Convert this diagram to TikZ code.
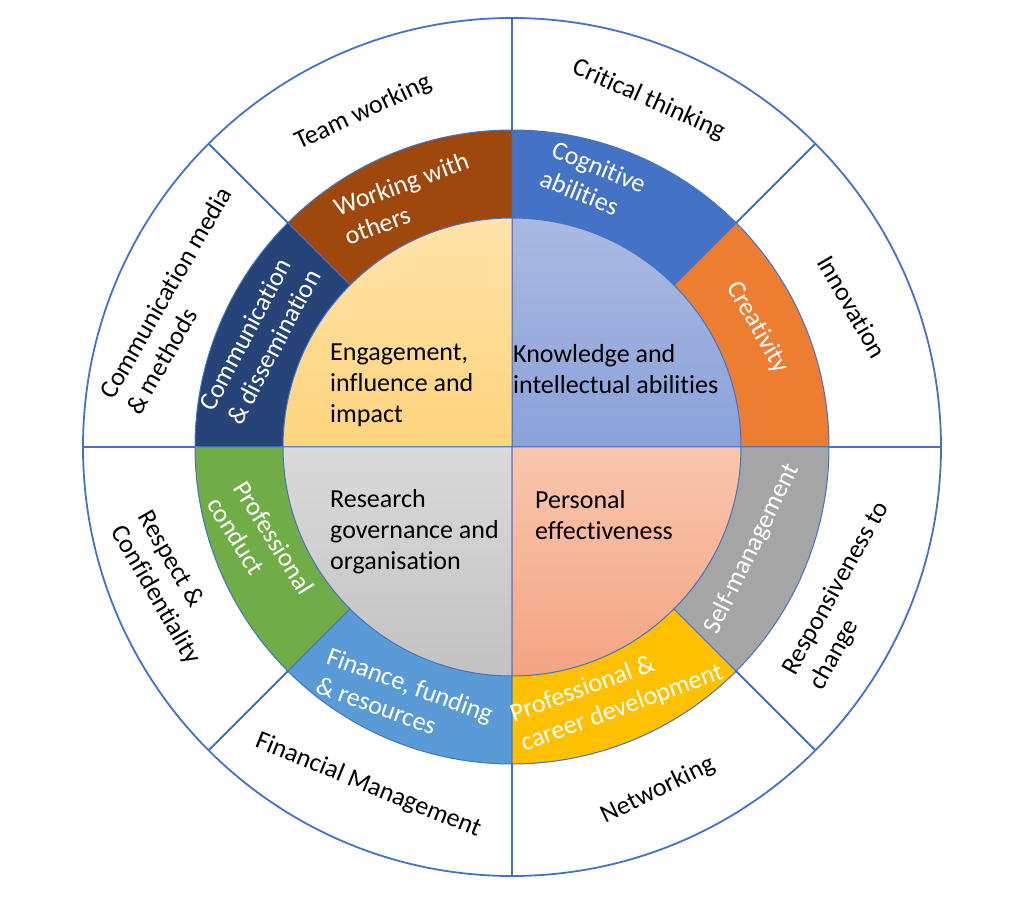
\documentclass[tikz,border=0pt]{standalone}
\usepackage{fontspec}
\setmainfont{Carlito}[Ligatures=NoCommon]
\definecolor{rim}{HTML}{4472C4}
\definecolor{workbrown}{HTML}{9E480E}
\definecolor{commnavy}{HTML}{264478}
\definecolor{cogblue}{HTML}{4472C4}
\definecolor{creaorange}{HTML}{ED7D31}
\definecolor{selfgrey}{HTML}{A5A5A5}
\definecolor{careergold}{HTML}{FFC000}
\definecolor{finblue}{HTML}{5B9BD5}
\definecolor{condgreen}{HTML}{70AD47}
\definecolor{engtop}{HTML}{FFE3A9}
\definecolor{engbot}{HTML}{FFD47D}
\definecolor{knowtop}{HTML}{AAB9E0}
\definecolor{knowbot}{HTML}{8AA2DA}
\definecolor{restop}{HTML}{DADADA}
\definecolor{resbot}{HTML}{C2C2C2}
\definecolor{pertop}{HTML}{F8C6AE}
\definecolor{perbot}{HTML}{F4A482}
\tikzset{
    outerlabel/.style={font=\fontsize{26}{31}\selectfont, align=left, text=black, inner sep=0pt},
    ringlabel/.style={font=\fontsize{26}{31}\selectfont, align=left, text=white, inner sep=0pt},
    corelabel/.style={font=\fontsize{26}{31}\selectfont, align=left, anchor=west, inner sep=0pt},
}
\begin{document}
\begin{tikzpicture}[x=1pt,y=1pt]
\useasboundingbox[fill=white] (-512,-449) rectangle (512,447);
% outer ring
\draw[rim, line width=1.8pt, fill=white] (0,0) circle[radius=429pt];
\foreach \a in {0,45,...,315}
    \draw[rim, line width=1.8pt] (\a:317) -- (\a:429);
% middle ring
\foreach \a/\c in {0/creaorange, 45/cogblue, 90/workbrown, 135/commnavy,
                   180/condgreen, 225/finblue, 270/careergold, 315/selfgrey}
    \filldraw[fill=\c, draw=rim, line width=1pt]
        (0,0) -- (\a:317) arc[start angle=\a, delta angle=45, radius=317pt] -- cycle;
% core quadrants
\foreach \a/\t/\b in {0/knowtop/knowbot, 90/engtop/engbot,
                      180/restop/resbot, 270/pertop/perbot}
    \shadedraw[top color=\t, bottom color=\b, draw=rim, line width=1pt]
        (0,0) -- (\a:229) arc[start angle=\a, delta angle=90, radius=229pt] -- cycle;
% outer labels
\node[outerlabel, rotate=25] (team) at (114:366) {Team working};
\node[outerlabel, rotate=-24] (critical) at (68.5:373) {Critical thinking};
\node[outerlabel, rotate=-60] (innovation) at (22.4:368) {Innovation};
\node[outerlabel, rotate=60] (media) at (156.3:364) {Communication media\\\& methods};
\node[outerlabel, rotate=-60] (respect) at (202.3:371) {Respect \&\\Confidentiality};
\node[outerlabel, rotate=-22] (finmgmt) at (247:368) {Financial Management};
\node[outerlabel, rotate=26] (networking) at (293:373) {Networking};
\node[outerlabel, rotate=61] (responsive) at (336.2:369) {Responsiveness to\\change};
% ring labels
\node[ringlabel, rotate=20] (working) at (113:270) {Working with\\others};
\node[ringlabel, rotate=-22] (cognitive) at (73:278) {Cognitive\\abilities};
\node[ringlabel, rotate=-60] (creativity) at (26:273) {Creativity};
\node[ringlabel, rotate=62] (dissem) at (157:274) {Communication\\\& dissemination};
\node[ringlabel, rotate=-58] (conduct) at (201.5:270) {Professional\\conduct};
\node[ringlabel, rotate=-20] (funding) at (247:274) {Finance, funding\\\& resources};
\node[ringlabel, rotate=20] (career) at (293:268) {Professional \&\\career development};
\node[ringlabel, rotate=64] (selfman) at (337:261) {Self-management};
% core labels
\node[corelabel] (engage) at (-182,62) {Engagement,\\influence and\\impact};
\node[corelabel] (know) at (1,78) {Knowledge and\\intellectual abilities};
\node[corelabel] (research) at (-182,-85) {Research\\governance and\\organisation};
\node[corelabel] (personal) at (23,-68) {Personal\\effectiveness};
\end{tikzpicture}
\end{document}
